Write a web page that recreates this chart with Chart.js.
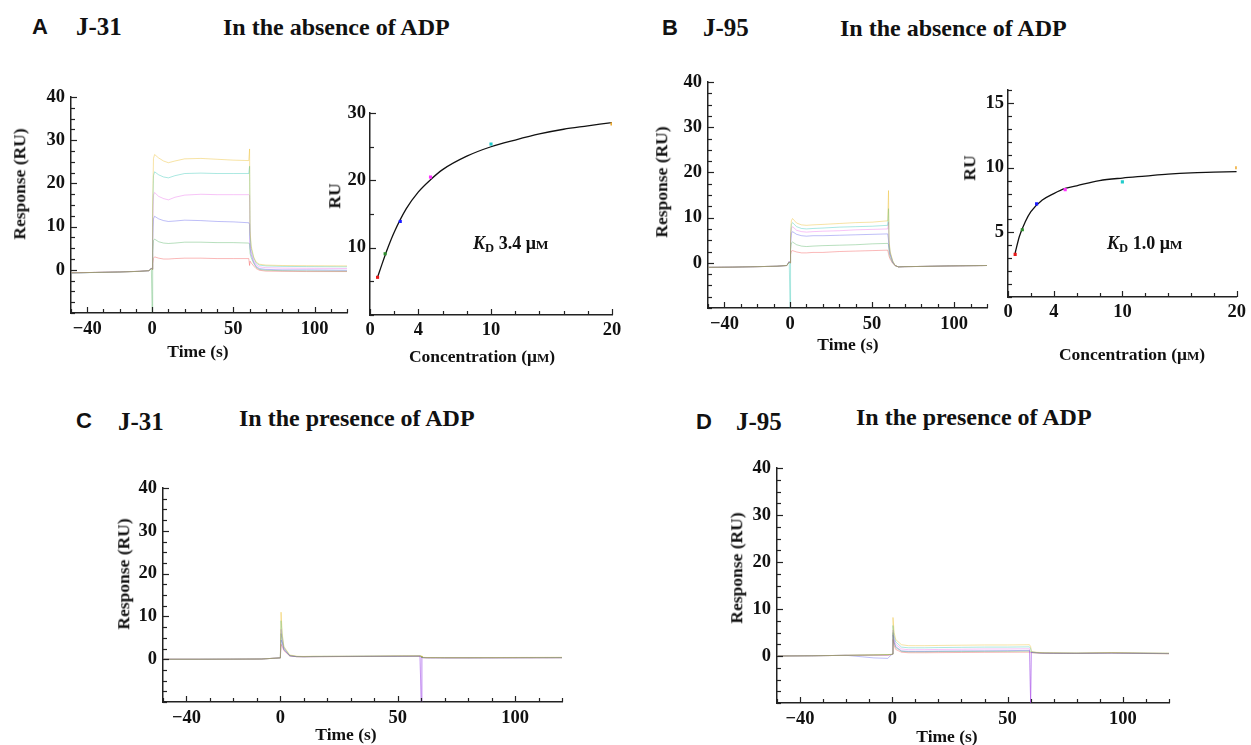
<!DOCTYPE html>
<html>
<head>
<meta charset="utf-8" />
<title>SPR sensorgrams J-31 / J-95</title>
<script src="https://cdn.jsdelivr.net/npm/chart.js"></script>
<style>
    body {
        margin: 0;
        background: #fff;
        overflow: hidden;
    }
    #page {
        position: relative;
        width: 1251px;
        height: 745px;
    }
    canvas {
        position: absolute;
    }
    .t {
        position: absolute;
        font-family: 'Liberation Serif', 'Times New Roman', serif;
        font-weight: bold;
        line-height: 1;
        white-space: nowrap;
        color: #111;
    }
    .sans {
        font-family: 'Liberation Sans', Arial, sans-serif;
    }
    .c { transform: translate(-50%, -50%); }
    .r { transform: translate(-50%, -50%) rotate(-90deg); }
    .ax { font-size: 17.5px; }
    .sm { font-size: 0.75em; }
    .kd sub { font-size: 0.7em; vertical-align: -0.25em; }
</style>
</head>
<body>
<div id="page">
    <!-- panel headers -->
    <div class="t sans" style="left:32px; top:15.5px; font-size:22px;">A</div>
    <div class="t" style="left:76px; top:13.5px; font-size:25px;">J-31</div>
    <div class="t" style="left:223px; top:14.5px; font-size:24px;">In the absence of ADP</div>

    <div class="t sans" style="left:662px; top:17px; font-size:22px;">B</div>
    <div class="t" style="left:703px; top:15px; font-size:25px;">J-95</div>
    <div class="t" style="left:840px; top:16px; font-size:24px;">In the absence of ADP</div>

    <div class="t sans" style="left:76px; top:410px; font-size:22px;">C</div>
    <div class="t" style="left:118px; top:409px; font-size:25px;">J-31</div>
    <div class="t" style="left:239px; top:405.5px; font-size:24px;">In the presence of ADP</div>

    <div class="t sans" style="left:696px; top:411px; font-size:22px;">D</div>
    <div class="t" style="left:736px; top:409px; font-size:25px;">J-95</div>
    <div class="t" style="left:856px; top:405px; font-size:24px;">In the presence of ADP</div>

    <!-- charts -->
    <canvas id="sensA" width="340" height="268" style="left:21px; top:80px;"></canvas>
    <canvas id="bindA" width="306" height="252" style="left:320px; top:98px;"></canvas>
    <canvas id="sensB" width="343" height="278" style="left:658px; top:65px;"></canvas>
    <canvas id="bindB" width="292" height="257" style="left:958px; top:75px;"></canvas>
    <canvas id="sensC" width="463" height="266" style="left:113px; top:471px;"></canvas>
    <canvas id="sensD" width="456" height="287" style="left:727px; top:451px;"></canvas>

    <!-- axis titles -->
    <div class="t ax r" style="left:20px; top:184px;">Response (RU)</div>
    <div class="t ax c" style="left:198px; top:352px;">Time (s)</div>
    <div class="t ax r" style="left:335px; top:196px;">RU</div>
    <div class="t ax c" style="left:482px; top:357px;">Concentration (μ<span class="sm">M</span>)</div>
    <div class="t kd" style="left:473px; top:234px; font-size:18px;"><i>K</i><sub>D</sub> 3.4 μ<span class="sm">M</span></div>

    <div class="t ax r" style="left:662px; top:182px;">Response (RU)</div>
    <div class="t ax c" style="left:848px; top:345px;">Time (s)</div>
    <div class="t ax r" style="left:970px; top:168px;">RU</div>
    <div class="t ax c" style="left:1132px; top:355px;">Concentration (μ<span class="sm">M</span>)</div>
    <div class="t kd" style="left:1107px; top:234px; font-size:18px;"><i>K</i><sub>D</sub> 1.0 μ<span class="sm">M</span></div>

    <div class="t ax r" style="left:124px; top:574px;">Response (RU)</div>
    <div class="t ax c" style="left:346px; top:735px;">Time (s)</div>

    <div class="t ax r" style="left:737px; top:568px;">Response (RU)</div>
    <div class="t ax c" style="left:947px; top:737px;">Time (s)</div>
</div>

<script>
    // time points (s) shared by all sensorgrams
    const time = [-50, -35, -20, -8, -2, -0.5, 0, 0.3, 0.8, 1.5, 4, 7, 10, 14, 20, 30, 40, 50, 59.5, 60, 60.3, 61, 62.5, 64, 66, 70, 80, 95, 120];

    // A: J-31, no ADP (20, 10, 5, 2.5, 1.25, 0.625 uM)
    const a20   = [-0.7, -0.6, -0.5, -0.35, -0.2, 0.3, 0.1, 15, 25.8, 26.7, 25.9, 25.2, 24.8, 25.2, 25.7, 25.8, 25.6, 25.4, 25.3, 28.0, 9, 5.5, 3.0, 1.8, 1.3, 1.1, 1.0, 0.95, 0.9];
    const a10   = [-0.75, -0.62, -0.5, -0.35, -0.2, 0.3, 0.1, 13, 21.8, 22.7, 22.0, 21.5, 21.3, 21.8, 22.3, 22.4, 22.3, 22.3, 22.3, 24.0, 8, 5.0, 2.8, 1.6, 1.1, 0.9, 0.8, 0.75, 0.7];
    const a5    = [-0.7, -0.6, -0.48, -0.33, -0.2, 0.35, 0.1, 10, 17.3, 17.9, 17.0, 16.5, 16.2, 16.8, 17.3, 17.5, 17.4, 17.4, 17.4, 17.2, 6, 4.2, 2.2, 1.2, 0.7, 0.5, 0.4, 0.35, 0.3];
    const a2_5  = [-0.72, -0.6, -0.5, -0.35, -0.22, 0.4, 0.2, 7, 11.8, 12.4, 11.8, 11.4, 11.2, 11.3, 11.5, 11.4, 11.2, 11.1, 10.9, 10.5, 5, 3.5, 1.8, 0.8, 0.3, 0.1, 0.0, 0.0, -0.1];
    const a1_25 = [-0.7, -0.6, -0.5, -0.35, -0.2, 0.3, -10, 4, 6.8, 7.1, 6.5, 6.2, 6.1, 6.2, 6.4, 6.4, 6.3, 6.3, 6.2, 6.0, 3.8, 2.8, 1.5, 0.6, 0.1, -0.1, -0.2, -0.25, -0.3];
    const a0_6  = [-0.7, -0.6, -0.5, -0.35, -0.2, 0.3, 0.1, 1.5, 2.7, 3.0, 2.7, 2.5, 2.5, 2.6, 2.7, 2.7, 2.6, 2.6, 2.6, 1.0, 2.0, 1.6, 0.9, 0.3, -0.1, -0.3, -0.35, -0.4, -0.4];

    // B: J-95, no ADP
    const b20   = [-1.0, -0.95, -0.85, -0.75, -0.6, 0.2, 0.0, 6, 9.3, 9.8, 8.8, 8.4, 8.3, 8.4, 8.5, 8.7, 8.9, 9.0, 9.3, 16.0, 5, 2.5, 0.5, -0.6, -0.9, -0.85, -0.8, -0.7, -0.6];
    const b10   = [-1.0, -0.95, -0.85, -0.75, -0.6, 0.2, -10, 5.5, 8.5, 8.9, 8.0, 7.6, 7.5, 7.6, 7.7, 7.9, 8.0, 8.1, 8.3, 12.0, 4.5, 2.2, 0.4, -0.6, -0.9, -0.85, -0.8, -0.7, -0.6];
    const b5    = [-1.0, -0.95, -0.85, -0.75, -0.6, 0.25, 0.0, 5, 7.6, 8.0, 7.2, 6.9, 6.8, 6.9, 7.0, 7.1, 7.3, 7.4, 7.5, 9.0, 4, 2.0, 0.3, -0.6, -0.9, -0.85, -0.8, -0.7, -0.6];
    const b2_5  = [-1.0, -0.95, -0.85, -0.75, -0.6, 0.3, 0.0, 4, 6.5, 6.9, 6.3, 6.0, 5.9, 6.0, 6.0, 6.1, 6.2, 6.3, 6.4, 5.0, 3.5, 1.8, 0.2, -0.6, -0.9, -0.85, -0.8, -0.7, -0.6];
    const b1_25 = [-1.0, -0.95, -0.85, -0.75, -0.6, 0.2, 0.0, 3, 4.4, 4.6, 4.0, 3.7, 3.6, 3.7, 3.8, 3.9, 4.0, 4.2, 4.3, 4.0, 2.5, 1.2, 0.0, -0.6, -0.9, -0.85, -0.8, -0.7, -0.6];
    const b0_6  = [-1.0, -0.95, -0.85, -0.75, -0.6, 0.2, 0.0, 1.8, 2.6, 2.7, 2.4, 2.2, 2.2, 2.3, 2.3, 2.5, 2.6, 2.7, 2.8, 2.0, 1.5, 0.8, -0.1, -0.6, -0.9, -0.85, -0.8, -0.7, -0.6];

    // C: J-31 with ADP
    const c20   = [0, 0, 0.02, 0.05, 0.25, 0.3, 0.3, 11, 6, 3.0, 1.0, 0.7, 0.65, 0.7, 0.7, 0.72, 0.75, 0.8, 0.8, 0.8, 0.5, 0.45, 0.4, 0.4, 0.4, 0.38, 0.38, 0.4, 0.45];
    const c10   = [0, 0, 0.02, 0.05, 0.25, 0.3, 0.3, 9, 5.5, 2.8, 0.9, 0.65, 0.6, 0.65, 0.68, 0.7, 0.72, 0.75, 0.78, 0.7, 0.45, 0.4, 0.38, 0.38, 0.38, 0.36, 0.36, 0.38, 0.4];
    const c5    = [0, 0, 0.02, 0.05, 0.25, 0.3, 0.3, 7, 4.8, 2.6, 0.85, 0.62, 0.6, 0.62, 0.65, 0.68, 0.7, 0.72, 0.75, -10, 0.4, 0.38, 0.35, 0.35, 0.35, 0.34, 0.34, 0.35, 0.38];
    const c2_5  = [0, 0, 0.02, 0.05, 0.25, 0.3, 0.3, 4.5, 3.8, 2.2, 0.8, 0.6, 0.58, 0.6, 0.62, 0.65, 0.68, 0.7, 0.72, -10, 0.4, 0.36, 0.33, 0.33, 0.33, 0.32, 0.32, 0.33, 0.35];
    const c1_25 = [0, 0, 0.02, 0.05, 0.25, 0.3, 0.3, 6, 4.2, 2.4, 0.8, 0.6, 0.58, 0.6, 0.62, 0.65, 0.68, 0.7, 0.72, 0.7, 0.4, 0.36, 0.33, 0.33, 0.33, 0.32, 0.32, 0.33, 0.35];
    const c0_6  = [0, 0, 0.02, 0.05, 0.25, 0.3, 0.3, 3.5, 3.0, 2.0, 0.75, 0.58, 0.56, 0.58, 0.6, 0.62, 0.65, 0.68, 0.7, 0.7, 0.4, 0.35, 0.32, 0.32, 0.32, 0.3, 0.3, 0.32, 0.34];

    // D: J-95 with ADP
    const d20   = [0, 0.05, 0.15, 0.25, 0.3, 0.35, 0.4, 8.2, 5.0, 3.5, 2.4, 2.2, 2.2, 2.2, 2.25, 2.3, 2.35, 2.35, 2.4, 2.0, 1.0, 0.9, 0.8, 0.75, 0.7, 0.7, 0.65, 0.75, 0.6];
    const d10   = [0, 0.05, 0.15, 0.25, 0.3, 0.35, 0.4, 6.5, 4.3, 3.0, 1.9, 1.75, 1.75, 1.75, 1.8, 1.85, 1.9, 1.9, 1.95, 1.6, 0.9, 0.85, 0.75, 0.7, 0.68, 0.66, 0.62, 0.7, 0.58];
    const d5    = [0, 0.05, 0.15, 0.2, 0.1, 0.3, 0.4, 5.5, 3.6, 2.5, 1.5, 1.35, 1.35, 1.35, 1.4, 1.45, 1.5, 1.5, 1.55, -10, 0.85, 0.8, 0.72, 0.68, 0.65, 0.63, 0.6, 0.68, 0.55];
    const d2_5  = [0, 0.05, 0.15, -0.4, -0.5, 0.2, 0.4, 4.5, 3.0, 2.0, 1.1, 1.0, 1.0, 1.0, 1.05, 1.1, 1.1, 1.15, 1.2, -10, 0.8, 0.75, 0.7, 0.65, 0.62, 0.6, 0.58, 0.65, 0.52];
    const d1_25 = [0, 0.05, 0.15, 0.2, 0.25, 0.3, 0.4, 5, 2.8, 1.8, 1.0, 0.9, 0.9, 0.9, 0.95, 0.95, 1.0, 1.0, 1.05, 0.9, 0.78, 0.72, 0.68, 0.63, 0.6, 0.58, 0.56, 0.62, 0.5];
    const d0_6  = [0, 0.05, 0.15, 0.2, 0.25, 0.3, 0.4, 3.5, 2.2, 1.4, 0.8, 0.7, 0.7, 0.7, 0.72, 0.75, 0.78, 0.8, 0.82, 0.7, 0.72, 0.68, 0.64, 0.6, 0.58, 0.56, 0.54, 0.6, 0.48];

    // steady-state binding (uM -> RU)
    const conc = [0.625, 1.25, 2.5, 5, 10, 20];
    const ruA = [5.6, 9.1, 13.9, 20.5, 25.4, 28.4];
    const ruB = [3.3, 5.2, 7.2, 8.3, 8.9, 10.0];
    const fitConc = [0.625, 1, 1.5, 2, 3, 4, 5, 6, 8, 10, 12, 14, 16, 18, 20];
    const fitA = [5.6, 7.6, 10.1, 12.3, 15.8, 18.3, 20.1, 21.6, 23.6, 25.0, 26.0, 26.9, 27.6, 28.1, 28.6];
    const fitB = [3.4, 4.7, 5.8, 6.6, 7.5, 8.0, 8.4, 8.6, 9.0, 9.2, 9.35, 9.5, 9.6, 9.65, 9.7];

    // tick labels that are printed
    const timeTicks = [-40, 0, 50, 100];
    const respTicks = [0, 10, 20, 30, 40];
    const concTicks = [0, 4, 10, 20];
    const ruTicksA = [10, 20, 30];
    const ruTicksB = [5, 10, 15];

    // one colour per concentration: 20, 10, 5, 2.5, 1.25, 0.625
    const lineColors = ['rgba(235,185,30,0.4)', 'rgba(0,185,165,0.33)', 'rgba(230,60,230,0.3)',
                        'rgba(40,40,230,0.3)', 'rgba(20,150,40,0.3)', 'rgba(240,40,40,0.33)'];
    const dotColors = ['#e81818', '#2c8c2c', '#1a1aff', '#ff30ff', '#22cccc', '#eeaa30'];

    const tickFont = { family: "'Liberation Serif', 'Times New Roman', serif", weight: 'bold', size: 18.5 };

    // small tick marks drawn on the inner side of both axes
    const innerTicks = {
        id: 'innerTicks',
        afterDraw(chart) {
            const { ctx, chartArea: a } = chart;
            const xs = chart.scales.x, ys = chart.scales.y;
            ctx.save();
            ctx.strokeStyle = '#222';
            ctx.lineWidth = 1.2;
            xs.ticks.forEach(t => {
                const p = Math.round(xs.getPixelForValue(t.value)) + 0.5;
                const len = t.label !== '' ? 6 : 4;
                ctx.beginPath();
                ctx.moveTo(p, a.bottom);
                ctx.lineTo(p, a.bottom - len);
                ctx.stroke();
            });
            ys.ticks.forEach(t => {
                const p = Math.round(ys.getPixelForValue(t.value)) + 0.5;
                const len = t.label !== '' ? 6 : 4;
                ctx.beginPath();
                ctx.moveTo(a.left, p);
                ctx.lineTo(a.left + len, p);
                ctx.stroke();
            });
            ctx.restore();
        }
    };

    function axis(min, max, step, shown, size, horizontal, pad) {
        return {
            type: 'linear',
            min: min,
            max: max,
            afterFit: s => { if (horizontal) s.height = size; else s.width = size; },
            grid: { display: false, drawTicks: false },
            border: { display: true, color: '#222', width: 1.5 },
            ticks: {
                stepSize: step,
                autoSkip: false,
                maxRotation: 0,
                padding: pad,
                color: '#111',
                font: tickFont,
                callback: v => shown.includes(v) ? (v < 0 ? '\u2212' + Math.abs(v) : String(v)) : ''
            }
        };
    }

    function sensorgram(id, series, rightPad) {
        const datasets = series.map((vals, i) => ({
            data: time.map((t, j) => ({ x: t, y: vals[j] })),
            borderColor: lineColors[i],
            borderWidth: 1,
            pointRadius: 0,
            tension: 0
        }));
        new Chart(document.getElementById(id), {
            type: 'line',
            data: { datasets: datasets },
            options: {
                responsive: false,
                animation: false,
                layout: { padding: { left: 0, top: 12, right: rightPad, bottom: 0 } },
                plugins: { legend: { display: false }, tooltip: { enabled: false } },
                scales: {
                    x: axis(-50, 120, 10, timeTicks, 35, true, 5),
                    y: axis(-10, 40, 2.5, respTicks, 50, false, 6)
                }
            },
            plugins: [innerTicks]
        });
    }

    function binding(id, ru, fit, yMax, yStep, yTicks, rightPad) {
        new Chart(document.getElementById(id), {
            type: 'scatter',
            data: {
                datasets: [
                    {
                        data: conc.map((c, i) => ({ x: c, y: ru[i] })),
                        pointStyle: 'rect',
                        pointRadius: 2.2,
                        pointBackgroundColor: dotColors,
                        pointBorderColor: dotColors,
                        pointBorderWidth: 0
                    },
                    {
                        data: fitConc.map((c, i) => ({ x: c, y: fit[i] })),
                        showLine: true,
                        borderColor: '#111',
                        borderWidth: 1.3,
                        pointRadius: 0,
                        cubicInterpolationMode: 'monotone'
                    }
                ]
            },
            options: {
                responsive: false,
                animation: false,
                layout: { padding: { left: 0, top: 12, right: rightPad, bottom: 0 } },
                plugins: { legend: { display: false }, tooltip: { enabled: false } },
                scales: {
                    x: axis(0, 20, 2, concTicks, 35, true, 4),
                    y: axis(0, yMax, yStep, yTicks, 50, false, 4)
                }
            },
            plugins: [innerTicks]
        });
    }

    sensorgram('sensA', [a20, a10, a5, a2_5, a1_25, a0_6], 14);
    sensorgram('sensB', [b20, b10, b5, b2_5, b1_25, b0_6], 14);
    sensorgram('sensC', [c20, c10, c5, c2_5, c1_25, c0_6], 14);
    sensorgram('sensD', [d20, d10, d5, d2_5, d1_25, d0_6], 14);
    binding('bindA', ruA, fitA, 30, 5, ruTicksA, 14);
    binding('bindB', ruB, fitB, 16, 1, ruTicksB, 9);
</script>
</body>
</html>
